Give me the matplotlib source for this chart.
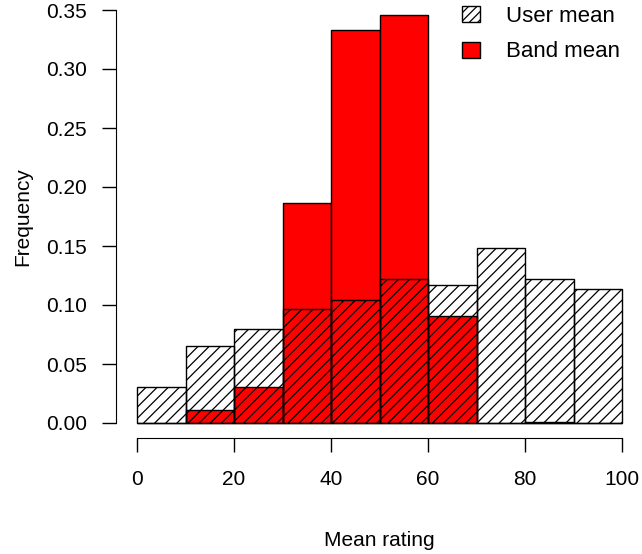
#!/usr/bin/env python3

import matplotlib
matplotlib.use('Agg')
import matplotlib.pyplot as plt
from matplotlib.patches import Patch

# histogram bins (left edges, width 10) and relative frequencies
bin_left = [0, 10, 20, 30, 40, 50, 60, 70, 80, 90]
user_mean = [0.0305, 0.0653, 0.0797, 0.0963, 0.1046, 0.1220, 0.1170, 0.1486, 0.1220, 0.1133]
band_mean = [0.0, 0.0110, 0.0308, 0.1868, 0.3328, 0.3455, 0.0907, 0.0, 0.0010, 0.0]

x_ticks = [0, 20, 40, 60, 80, 100]
y_ticks = [0.00, 0.05, 0.10, 0.15, 0.20, 0.25, 0.30, 0.35]

plt.rcParams['font.family'] = ['Liberation Sans', 'DejaVu Sans']
plt.rcParams['hatch.linewidth'] = 0.9

fig = plt.figure(figsize=(6.42, 5.54), dpi=100)
ax = fig.add_axes([137 / 642, (554 - 423) / 554, 485 / 642, 413 / 554])

# red histogram underneath, hatched one drawn over it without fill
ax.bar(bin_left, band_mean, width=10, align='edge', color='red',
       edgecolor='black', linewidth=1.0, clip_on=False)
ax.bar(bin_left, user_mean, width=10, align='edge', facecolor='none',
       edgecolor='black', hatch='///', linewidth=1.0, clip_on=False)

ax.set_xlim(0, 100)
ax.set_ylim(0, 0.35)

for side in ['top', 'right']:
    ax.spines[side].set_visible(False)
ax.spines['left'].set_position(('outward', 15))
ax.spines['bottom'].set_position(('outward', 11))
ax.spines['left'].set_bounds(0, 0.35)
ax.spines['bottom'].set_bounds(0, 100)

ax.set_xticks(x_ticks)
ax.set_yticks(y_ticks)
ax.set_yticklabels(['%.2f' % v for v in y_ticks])
ax.tick_params(axis='both', labelsize=15, length=10, width=1.0)
ax.tick_params(axis='y', pad=11)
ax.tick_params(axis='x', pad=13)

ax.set_xlabel("Mean rating", fontsize=15, labelpad=30)
ax.set_ylabel("Frequency", fontsize=15, labelpad=10)

handles = [Patch(facecolor='white', edgecolor='black', hatch='////'),
           Patch(facecolor='red', edgecolor='black')]
ax.legend(handles=handles, labels=["User mean", "Band mean"], loc='upper left',
          bbox_to_anchor=(462 / 642, 1 - 6 / 554), bbox_transform=fig.transFigure,
          frameon=False, fontsize=16, handlelength=0.8, handleheight=0.75,
          handletextpad=1.2, labelspacing=0.65, borderaxespad=0.0, borderpad=0.0)

plt.savefig("out.png", dpi=100)
